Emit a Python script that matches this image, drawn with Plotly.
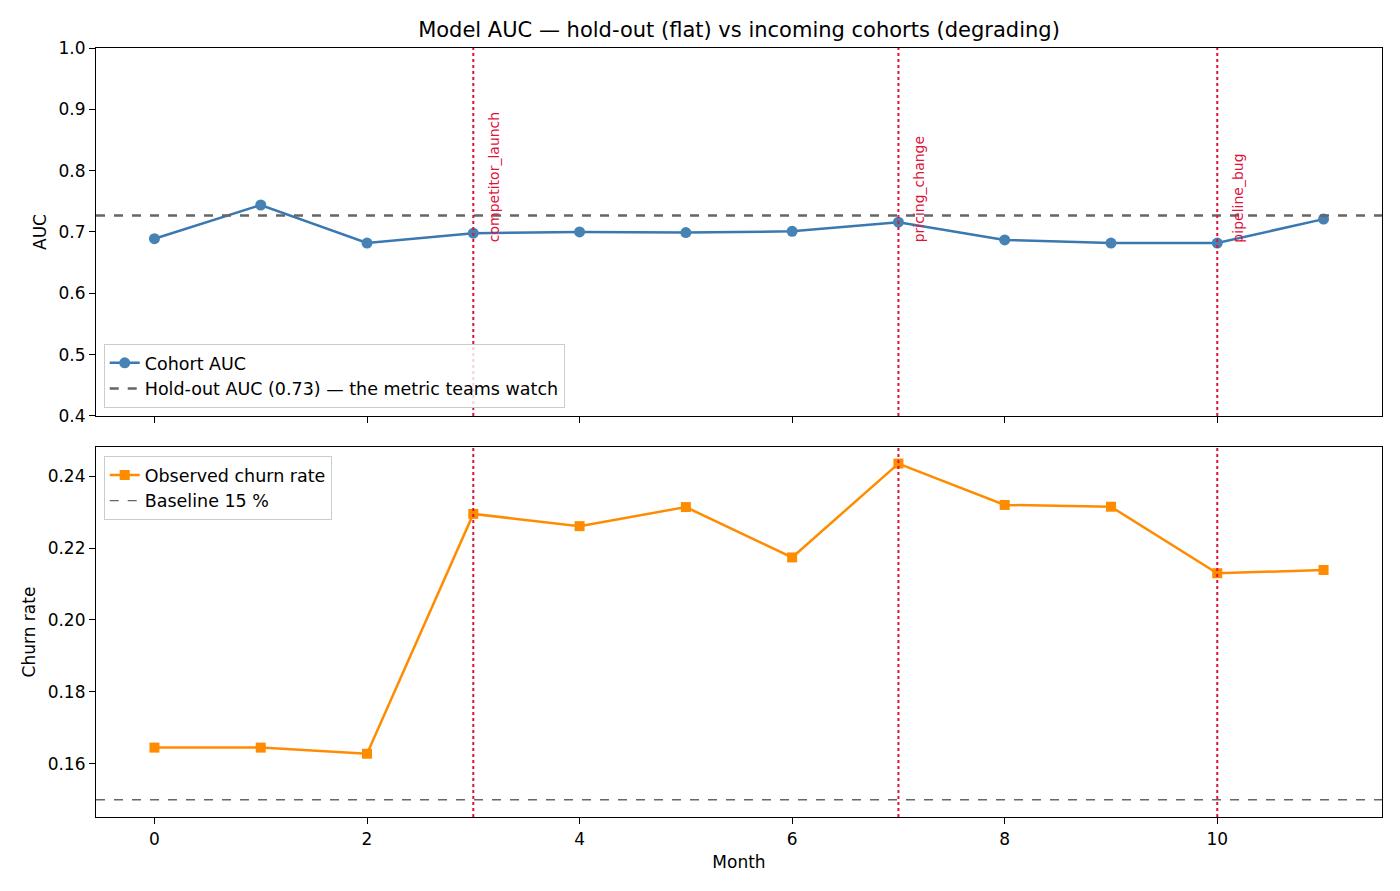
import plotly.graph_objects as go
from plotly.subplots import make_subplots

# monthly cohort numbers
months = [0, 1, 2, 3, 4, 5, 6, 7, 8, 9, 10, 11]
cohort_auc = [0.689, 0.744, 0.682, 0.698, 0.700, 0.699, 0.701, 0.716, 0.687, 0.682, 0.682, 0.721]
churn_rate = [0.1645, 0.1645, 0.1628, 0.2295, 0.2261, 0.2314, 0.2174, 0.2435, 0.2320, 0.2315, 0.2130, 0.2139]
holdout_auc = 0.727
baseline_churn = 0.15

event_months = [3, 7, 10]
event_names = ["competitor_launch", "pricing_change", "pipeline_bug"]

BLUE = "#3a78b0"
ORANGE = "#ff8c00"
RED = "crimson"
FONT = "DejaVu Sans"

# page body has an 8px margin, so the figure is a bit smaller than the window
W, H = 1384, 875

fig = make_subplots(rows=2, cols=1, shared_xaxes=True, vertical_spacing=0.04)

fig.add_trace(go.Scatter(x=months, y=cohort_auc, mode="lines+markers", name="Cohort AUC",
                         line=dict(color=BLUE, width=2.5),
                         marker=dict(color="#4682b4", size=11, symbol="circle"),
                         legend="legend"), row=1, col=1)
fig.add_trace(go.Scatter(x=months, y=churn_rate, mode="lines+markers", name="Observed churn rate",
                         line=dict(color=ORANGE, width=2.5),
                         marker=dict(color=ORANGE, size=10, symbol="square"),
                         legend="legend2"), row=2, col=1)

# reference lines (shapes also get a legend entry)
fig.add_hline(y=holdout_auc, line=dict(color="#666666", width=2.5, dash="dash"), row=1, col=1,
              showlegend=True, name="Hold-out AUC (0.73) — the metric teams watch", legend="legend")
fig.add_hline(y=baseline_churn, line=dict(color="#666666", width=1.3, dash="dash"), row=2, col=1,
              showlegend=True, name="Baseline 15 %", legend="legend2")

for m, name in zip(event_months, event_names):
    for r in (1, 2):
        fig.add_vline(x=m, line=dict(color=RED, width=2, dash="dot"), row=r, col=1)
    fig.add_annotation(x=m + 0.1, y=0.68, xref="x", yref="y", text=name, showarrow=False,
                       textangle=-90, xanchor="left", yanchor="bottom",
                       font=dict(color=RED, size=14, family=FONT))

axis_style = dict(showline=True, linecolor="black", linewidth=1.2, mirror=True, showgrid=False,
                  zeroline=False, ticks="outside", ticklen=6, tickcolor="black",
                  tickfont=dict(size=17, color="black", family=FONT))

fig.update_xaxes(**axis_style, range=[-0.55, 11.55], tick0=0, dtick=2)
fig.update_xaxes(showticklabels=False, row=1, col=1)
fig.update_xaxes(title=dict(text="Month", font=dict(size=17, family=FONT), standoff=8), row=2, col=1)
fig.update_yaxes(**axis_style)
fig.update_yaxes(range=[0.4, 1.0], dtick=0.1, tickformat=".1f", domain=[0.5215, 1.0],
                 title=dict(text="AUC", font=dict(size=17, family=FONT), standoff=7), row=1, col=1)
fig.update_yaxes(range=[0.1452, 0.2481], dtick=0.02, tickformat=".2f", domain=[0.0, 0.4811],
                 title=dict(text="Churn rate", font=dict(size=17, family=FONT), standoff=7), row=2, col=1)

legend_style = dict(bgcolor="rgba(255,255,255,0.8)", bordercolor="#cccccc", borderwidth=1,
                    font=dict(size=17.5, color="black", family=FONT), xref="paper", yref="paper",
                    xanchor="left", tracegroupgap=0)

fig.update_layout(
    width=W, height=H,
    margin=dict(l=88, r=10, t=40, b=66),
    paper_bgcolor="white", plot_bgcolor="white",
    font=dict(family=FONT, color="black"),
    title=dict(text="Model AUC — hold-out (flat) vs incoming cohorts (degrading)",
               x=0.5, xref="paper", xanchor="center", y=1 - 22 / H, yanchor="middle",
               font=dict(size=21, family=FONT, color="black")),
    legend=dict(**legend_style, x=0.006, y=0.532, yanchor="bottom"),
    legend2=dict(**legend_style, x=0.006, y=0.4694, yanchor="top"),
)

fig.write_html("out.html")
